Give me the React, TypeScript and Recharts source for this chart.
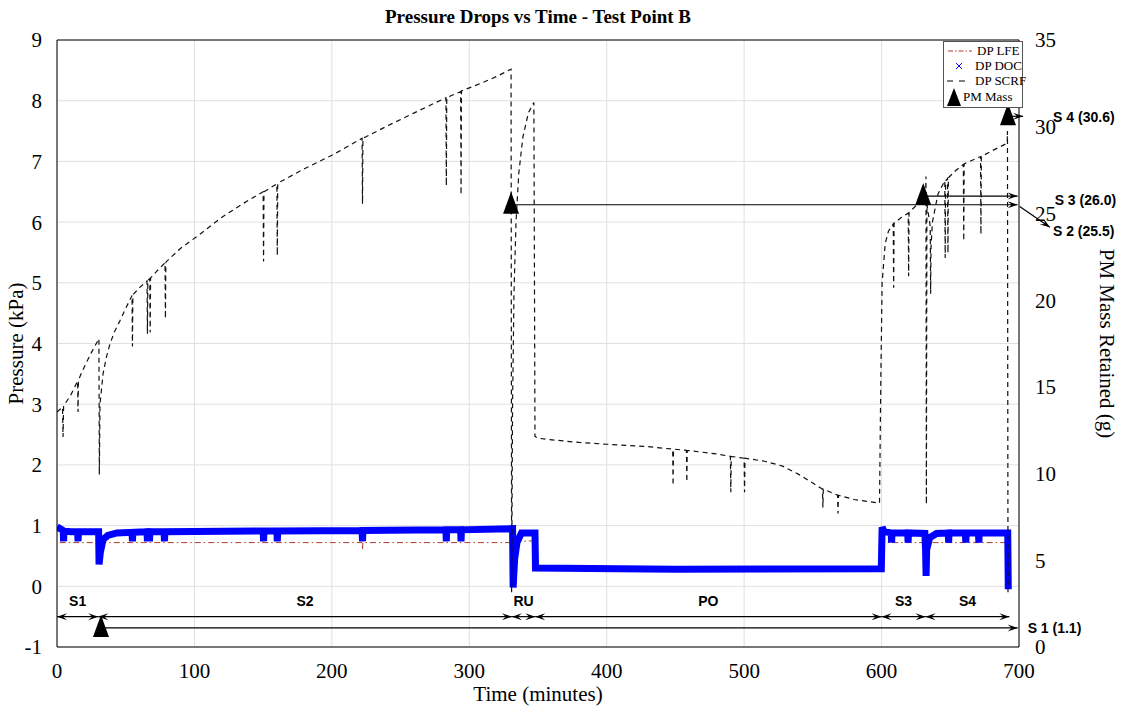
import React from 'react';
import { ComposedChart, Line, Scatter, XAxis, YAxis, CartesianGrid, ReferenceLine } from 'recharts';

type Pt = [number, number];

// DP SCRF (kPa) vs time (min), spikes included
const dpScrf: Pt[] = [
  [0, 2.87], [4, 2.95], [4.4, 2.46], [4.8, 2.97], [10, 3.15], [15, 3.38], [15.3, 2.87], [15.6, 3.4],
  [20, 3.62], [25, 3.85], [30.5, 4.08], [30.8, 1.84], [31.3, 3.0], [33.5, 3.5], [36, 3.78], [38.6, 4.0],
  [42, 4.2], [45.9, 4.38], [50, 4.58], [54.6, 4.79], [54.9, 3.95], [55.2, 4.8], [60, 4.92], [65.5, 5.03],
  [65.8, 4.16], [66.1, 5.04], [67.5, 5.07], [67.8, 4.18], [68.1, 5.08], [73, 5.2], [78.6, 5.33], [78.9, 4.41],
  [79.2, 5.34], [90, 5.57], [104, 5.8], [120, 6.08], [135, 6.3], [150, 6.5], [150.3, 5.35], [150.6, 6.5],
  [160, 6.63], [160.3, 5.45], [160.6, 6.64], [180, 6.88], [200, 7.1], [222, 7.38], [222.3, 6.3], [222.6, 7.38],
  [240, 7.58], [260, 7.8], [283, 8.05], [283.3, 6.6], [283.6, 8.05], [293.7, 8.15], [294, 6.45], [294.3, 8.16],
  [310, 8.3], [320, 8.4], [330.4, 8.52], [330.8, -0.1], [331.5, 3.0], [332.5, 4.8], [334, 6.0], [336, 6.8],
  [339, 7.4], [343, 7.8], [347, 7.97], [347.8, 2.47], [350, 2.44], [357, 2.42], [380, 2.37], [400, 2.34],
  [430, 2.3], [448, 2.26], [448.3, 1.66], [448.6, 2.26], [458, 2.24], [458.3, 1.72], [458.6, 2.24], [480, 2.18],
  [490, 2.14], [490.3, 1.55], [490.6, 2.14], [500, 2.11], [500.3, 1.55], [500.6, 2.11], [515, 2.06], [528, 1.98],
  [540, 1.84], [550, 1.7], [557, 1.6], [557.3, 1.3], [557.6, 1.6], [563, 1.55], [568, 1.5], [568.3, 1.2],
  [568.6, 1.5], [580, 1.43], [598.5, 1.37], [599.5, 3.5], [600.4, 5.0], [602.6, 5.64], [605, 5.85], [608.5, 5.97],
  [608.8, 4.92], [609.1, 5.98], [614, 6.07], [619.4, 6.15], [619.7, 5.11], [620, 6.16], [625, 6.27], [630.3, 6.38],
  [632, 6.42], [632.3, 6.75], [632.6, 1.35], [633, 6.3], [635.4, 5.93], [635.7, 4.82], [636, 5.6], [637, 6.0],
  [641, 6.46], [646, 6.68], [646.3, 5.41], [646.6, 6.68], [648, 6.72], [648.3, 5.49], [648.6, 6.73], [654, 6.85],
  [659.5, 6.95], [659.8, 5.69], [660.1, 6.96], [666, 7.02], [672, 7.08], [672.3, 5.8], [672.6, 7.08], [680, 7.17],
  [691.4, 7.3], [691.6, 7.5], [692, -0.1],
];

// DP DOC (kPa)
const dpDoc: Pt[] = [
  [0, 0.98], [3, 0.94], [4.5, 0.92], [4.8, 0.74], [5.1, 0.91], [10, 0.9], [15, 0.9], [15.3, 0.74], [15.6, 0.9],
  [30.3, 0.9], [30.6, 0.36], [31.5, 0.55], [33.5, 0.77], [37, 0.84], [43.6, 0.88], [54.6, 0.89], [54.9, 0.74],
  [55.2, 0.89], [65.5, 0.9], [65.8, 0.74], [66.1, 0.9], [67, 0.9], [67.3, 0.74], [67.6, 0.9], [77.9, 0.9],
  [78.2, 0.74], [78.5, 0.9], [150, 0.91], [150.3, 0.74], [150.6, 0.91], [160, 0.91], [160.3, 0.74], [160.6, 0.91],
  [222, 0.92], [222.3, 0.74], [222.6, 0.92], [283, 0.93], [283.3, 0.74], [283.6, 0.93], [293.7, 0.93], [294, 0.74],
  [294.3, 0.93], [331.5, 0.95], [331.9, -0.02], [333, 0.45], [334.7, 0.72], [338, 0.88], [347.8, 0.88], [348.2, 0.3],
  [450, 0.28], [599.8, 0.29], [600.4, 0.97], [602, 0.9], [607, 0.88], [607.3, 0.72], [607.6, 0.88], [619, 0.88],
  [619.3, 0.72], [619.6, 0.88], [631.5, 0.87], [632, 0.6], [632.4, 0.17], [632.8, 0.6], [635, 0.8], [640, 0.87],
  [648.5, 0.88], [648.8, 0.72], [649.1, 0.88], [661, 0.88], [661.3, 0.72], [661.6, 0.88], [670.5, 0.88], [670.8, 0.72],
  [671.1, 0.88], [691.8, 0.88], [692.2, -0.05],
];

// DP LFE (kPa)
const dpLfe: Pt[] = [
  [2, 0.72], [222, 0.72], [222.3, 0.6], [222.6, 0.72], [331.5, 0.72], [332, 0.1], [336, 0.74], [347.8, 0.75],
  [348.2, 0.27], [599.8, 0.27], [600.4, 0.72], [692, 0.72],
];

// PM mass retained (g) at the end of each stage
const pmMass: Pt[] = [[32, 1.1], [330.4, 25.5], [630.3, 26.0], [692, 30.6]];

const phaseBounds = [0, 30, 331, 348, 600, 632, 693];
const phaseNames = ['S1', 'S2', 'RU', 'PO', 'S3', 'S4'];

const xTicks = [0, 100, 200, 300, 400, 500, 600, 700];
const leftTicks = [-1, 0, 1, 2, 3, 4, 5, 6, 7, 8, 9];
const rightTicks = [0, 5, 10, 15, 20, 25, 30, 35];

// where each PM arrow ends, and where its label sits
const pmArrows = [
  { end: 699, dx: 10, dy: 1 },
  { end: 699, diag: [722.5, 24.2], dx: 3, dy: 5 },
  { end: 699, dx: 37, dy: 5 },
  { end: 703, dx: 30, dy: 2 },
];

const serif = '"Liberation Serif", "Times New Roman", serif';
const sans = '"Liberation Sans", Arial, sans-serif';

const rows = (pts: Pt[], key: string) => pts.map(([t, v]) => ({ t, [key]: v }));

const head = (tx: number, ty: number, fx: number, fy: number) => {
  const len = Math.hypot(tx - fx, ty - fy) || 1;
  const ux = (tx - fx) / len;
  const uy = (ty - fy) / len;
  const L = 10;
  const W = 3.5;
  const bx = tx - ux * L;
  const by = ty - uy * L;
  const pts = [
    [tx, ty],
    [bx - uy * W, by + ux * W],
    [tx - ux * L * 0.6, ty - uy * L * 0.6],
    [bx + uy * W, by - ux * W],
  ];
  return <polygon points={pts.map((p) => p.join(',')).join(' ')} fill="#000" />;
};

const ArrowShape = (props: any) => {
  const { x1, y1, x2, y2, both, text, mid, dx = 0, dy = 0 } = props;
  return (
    <g>
      <line x1={x1} y1={y1} x2={x2} y2={y2} stroke="#000" strokeWidth={1.2} />
      {head(x2, y2, x1, y1)}
      {both && head(x1, y1, x2, y2)}
      {text && mid && (
        <text x={(x1 + x2) / 2} y={y1 - 14} textAnchor="middle" dominantBaseline="middle"
          style={{ fontFamily: sans, fontWeight: 'bold', fontSize: 14 }} fill="#000">{text}</text>
      )}
      {text && !mid && (
        <text x={x2 + dx} y={y2 + dy} dominantBaseline="middle"
          style={{ fontFamily: sans, fontWeight: 'bold', fontSize: 14 }} fill="#000">{text}</text>
      )}
    </g>
  );
};

const Triangle = (p: any) => (
  <polygon points={`${p.cx},${p.cy - 13} ${p.cx - 8},${p.cy + 9} ${p.cx + 8},${p.cy + 9}`} fill="#000" />
);

const legendItems = [
  { name: 'DP LFE', kind: 'lfe' },
  { name: 'DP DOC', kind: 'doc' },
  { name: 'DP SCRF', kind: 'scrf' },
  { name: 'PM Mass', kind: 'pm' },
];

const LegendSymbol = ({ kind }: { kind: string }) => {
  if (kind === 'lfe') return <svg width={26} height={12}><line x1={1} y1={6} x2={25} y2={6} stroke="#b03a2e" strokeDasharray="5 2 1.5 2" /></svg>;
  if (kind === 'doc') return (
    <svg width={26} height={12}>
      <line x1={10} y1={3} x2={16} y2={9} stroke="#0000ff" strokeWidth={1} />
      <line x1={16} y1={3} x2={10} y2={9} stroke="#0000ff" strokeWidth={1} />
    </svg>
  );
  if (kind === 'scrf') return <svg width={26} height={12}><line x1={1} y1={6} x2={25} y2={6} stroke="#000" strokeDasharray="6 6" /></svg>;
  return <svg width={16} height={18}><polygon points="8,0 1,18 15,18" fill="#000" /></svg>;
};

export default function App() {
  return (
    <div style={{ position: 'absolute', left: 0, top: 0, width: 1123, height: 713, background: '#fff' }}>
      <div style={{ position: 'absolute', left: 238, top: 6, width: 600, textAlign: 'center', fontFamily: serif, fontWeight: 'bold', fontSize: 19 }}>
        Pressure Drops vs Time - Test Point B
      </div>
      <ComposedChart width={1123} height={713} margin={{ top: 40, right: 0, bottom: 0, left: 0 }}>
        <CartesianGrid stroke="#e0e0e0" />
        <XAxis dataKey="t" type="number" domain={[0, 700]} ticks={xTicks} height={66} allowDataOverflow
          axisLine={{ stroke: '#000' }} tickLine={false} tickMargin={10}
          tick={{ fontFamily: serif, fontSize: 21, fill: '#000' }}
          label={{ value: 'Time (minutes)', position: 'insideBottom', offset: 12, style: { fontFamily: serif, fontSize: 21, fill: '#000' } }} />
        <YAxis type="number" domain={[-1, 9]} ticks={leftTicks} width={57} allowDataOverflow
          axisLine={{ stroke: '#000' }} tickLine={false} tickMargin={9}
          tick={{ fontFamily: serif, fontSize: 21, fill: '#000' }}
          label={{ value: 'Pressure (kPa)', angle: -90, position: 'insideLeft', offset: 16, style: { textAnchor: 'middle', fontFamily: serif, fontSize: 21, fill: '#000' } }} />
        <YAxis yAxisId="right" dataKey="m" orientation="right" type="number" domain={[0, 35]} ticks={rightTicks} width={104} allowDataOverflow
          axisLine={{ stroke: '#000' }} tickLine={false} tickMargin={10}
          tick={{ fontFamily: serif, fontSize: 21, fill: '#000' }}
          label={{ value: 'PM Mass Retained (g)', angle: 90, position: 'insideRight', offset: 16, style: { textAnchor: 'middle', fontFamily: serif, fontSize: 21, fill: '#000' } }} />
        <ReferenceLine y={9} stroke="#000" />

        <Line data={rows(dpLfe, 'p')} dataKey="p" name="DP LFE" stroke="#b03a2e" strokeWidth={1}
          strokeDasharray="6 3 1.5 3" dot={false} activeDot={false} isAnimationActive={false} />
        <Line data={rows(dpDoc, 'p')} dataKey="p" name="DP DOC" stroke="#0000ff" strokeWidth={7}
          dot={false} activeDot={false} isAnimationActive={false} />
        <Line data={rows(dpScrf, 'p')} dataKey="p" name="DP SCRF" stroke="#111" strokeWidth={1.2}
          strokeDasharray="5 4" dot={false} activeDot={false} isAnimationActive={false} />

        {phaseNames.map((name, i) => (
          <ReferenceLine key={name} ifOverflow="visible"
            segment={[{ x: phaseBounds[i], y: -0.5 }, { x: phaseBounds[i + 1], y: -0.5 }]}
            shape={(p: any) => <ArrowShape {...p} both mid text={name} />} />
        ))}

        {pmMass.map(([t, m], i) => (
          <ReferenceLine key={`pm${i}`} yAxisId="right" ifOverflow="visible"
            segment={[{ x: t, y: m }, { x: pmArrows[i].end, y: m }]}
            shape={(p: any) => <ArrowShape {...p} text={pmArrows[i].diag ? undefined : `S ${i + 1} (${m.toFixed(1)})`} dx={pmArrows[i].dx} dy={pmArrows[i].dy} />} />
        ))}
        {pmMass.map(([, m], i) => pmArrows[i].diag ? (
          <ReferenceLine key={`diag${i}`} yAxisId="right" ifOverflow="visible"
            segment={[{ x: 700.5, y: m - 0.1 }, { x: pmArrows[i].diag![0], y: pmArrows[i].diag![1] }]}
            shape={(p: any) => <ArrowShape {...p} text={`S ${i + 1} (${m.toFixed(1)})`} dx={pmArrows[i].dx} dy={pmArrows[i].dy} />} />
        ) : null)}

        <Scatter data={rows(pmMass, 'm')} dataKey="m" yAxisId="right" name="PM Mass" shape={Triangle} isAnimationActive={false} />
      </ComposedChart>

      <div style={{ position: 'absolute', left: 943, top: 41, width: 80, height: 67, border: '1px solid #555', background: '#fff', fontFamily: serif, fontSize: 13, lineHeight: '16px', boxSizing: 'border-box', padding: '1px 2px' }}>
        {legendItems.map((it) => (
          <div key={it.name} style={{ display: 'flex', alignItems: 'center', height: it.kind === 'pm' ? 17 : 15 }}>
            <span style={{ width: it.kind === 'pm' ? 16 : 28, display: 'flex', justifyContent: 'center' }}><LegendSymbol kind={it.kind} /></span>
            <span style={{ marginLeft: it.kind === 'pm' ? 1 : 3, whiteSpace: 'nowrap' }}>{it.name}</span>
          </div>
        ))}
      </div>
    </div>
  );
}
